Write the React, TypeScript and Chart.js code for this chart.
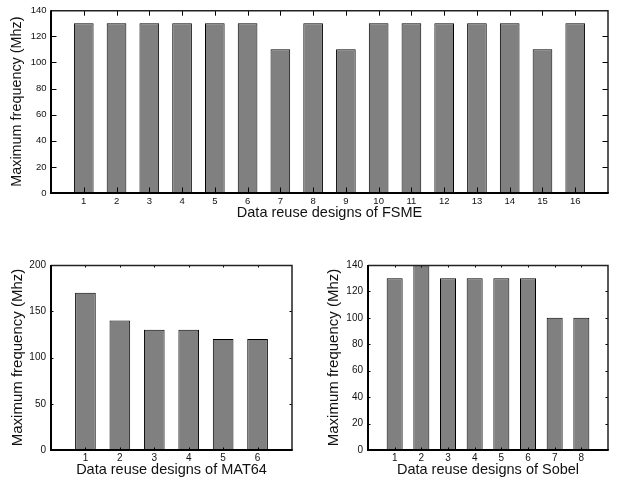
import React, { useEffect, useRef } from 'react';
import { Chart, registerables } from 'chart.js';

Chart.register(...registerables);

// ---- data ----
const fsmeDesigns = [1, 2, 3, 4, 5, 6, 7, 8, 9, 10, 11, 12, 13, 14, 15, 16];
const fsmeFrequency = [130, 130, 130, 130, 130, 130, 110, 130, 110, 130, 130, 130, 130, 130, 110, 130];
const fsmeYTicks = [0, 20, 40, 60, 80, 100, 120, 140];

const mat64Designs = [1, 2, 3, 4, 5, 6];
const mat64Frequency = [170, 140, 130, 130, 120, 120];
const mat64YTicks = [0, 50, 100, 150, 200];

const sobelDesigns = [1, 2, 3, 4, 5, 6, 7, 8];
const sobelFrequency = [130, 140, 130, 130, 130, 130, 100, 100];
const sobelYTicks = [0, 20, 40, 60, 80, 100, 120, 140];

const yAxisTitle = 'Maximum frequency (Mhz)';
const fsmeTitle = 'Data reuse designs of FSME';
const mat64Title = 'Data reuse designs of MAT64';
const sobelTitle = 'Data reuse designs of Sobel';

const FONT = "'Liberation Sans', Arial, Helvetica, sans-serif";
const TEXT = '#111';

const framePlugin = {
  id: 'matlabFrame',
  afterDraw(chart: any, _args: any, opts: any) {
    const { ctx, chartArea } = chart;
    const { left, right, top, bottom } = chartArea;
    const xs = chart.scales.x;
    const ys = chart.scales.y;
    const tl = opts.tickLength || 4;
    ctx.save();
    ctx.strokeStyle = '#000';
    ctx.lineWidth = 1;
    ctx.beginPath();
    (opts.xTicks || []).forEach((v: number) => {
      const px = Math.round(xs.getPixelForValue(v)) + 0.5;
      ctx.moveTo(px, top);
      ctx.lineTo(px, top + tl);
      ctx.moveTo(px, bottom);
      ctx.lineTo(px, bottom - tl);
    });
    (opts.yTicks || []).forEach((v: number, i: number, arr: number[]) => {
      if (i === 0 || i === arr.length - 1) return;
      const py = Math.round(ys.getPixelForValue(v)) + 0.5;
      ctx.moveTo(left, py);
      ctx.lineTo(left + tl, py);
      ctx.moveTo(right, py);
      ctx.lineTo(right - tl, py);
    });
    ctx.stroke();
    // top & right frame
    ctx.lineWidth = 1.5;
    ctx.strokeStyle = '#222';
    ctx.beginPath();
    ctx.moveTo(left, top + 0.5);
    ctx.lineTo(right, top + 0.5);
    ctx.lineTo(right, bottom);
    ctx.stroke();
    // left & bottom axes
    ctx.lineWidth = 2;
    ctx.strokeStyle = '#000';
    ctx.beginPath();
    ctx.moveTo(left, top);
    ctx.lineTo(left, bottom);
    ctx.lineTo(right + 0.75, bottom);
    ctx.stroke();
    ctx.restore();
  },
};

type PanelLayout = {
  left: number;
  top: number;
  width: number;
  height: number;
  padTop: number;
  padRight: number;
  padBottom: number;
  yAxisWidth: number;
  xAxisHeight: number;
  tickFont: number;
  xTickPad: number;
  yTickPad: number;
  xTitleFont: number;
  yTitleFont: number;
  yTitlePad: number;
  tickLength: number;
};

type PanelProps = {
  designs: number[];
  values: number[];
  yTicks: number[];
  xTitle: string;
  layout: PanelLayout;
};

function BarPanel({ designs, values, yTicks, xTitle, layout }: PanelProps) {
  const ref = useRef<HTMLCanvasElement | null>(null);
  useEffect(() => {
    if (!ref.current) return;
    const xMax = designs[designs.length - 1] + 1;
    const chart = new Chart(ref.current, {
      type: 'bar',
      data: {
        datasets: [
          {
            data: designs.map((d, i) => ({ x: d, y: values[i] })),
            backgroundColor: '#808080',
            borderColor: '#000',
            borderWidth: 1,
            barPercentage: 0.6,
            categoryPercentage: 1,
          },
        ],
      },
      options: {
        animation: false,
        responsive: false,
        maintainAspectRatio: false,
        devicePixelRatio: 1,
        layout: {
          padding: {
            top: layout.padTop,
            right: layout.padRight,
            bottom: layout.padBottom,
            left: 0,
          },
        },
        plugins: {
          legend: { display: false },
          tooltip: { enabled: false },
          matlabFrame: { xTicks: designs, yTicks, tickLength: layout.tickLength },
        } as any,
        scales: {
          x: {
            type: 'linear',
            min: 0,
            max: xMax,
            offset: false,
            grid: { display: false, drawTicks: false, offset: false },
            border: { display: false },
            afterBuildTicks: (scale: any) => {
              scale.ticks = designs.map((d) => ({ value: d }));
            },
            afterFit: (scale: any) => {
              scale.height = layout.xAxisHeight;
            },
            ticks: {
              autoSkip: false,
              maxRotation: 0,
              padding: layout.xTickPad,
              color: TEXT,
              font: { family: FONT, size: layout.tickFont },
              callback: (v: any) => String(v),
            },
            title: {
              display: true,
              text: xTitle,
              color: TEXT,
              padding: 0,
              font: { family: FONT, size: layout.xTitleFont },
            },
          },
          y: {
            type: 'linear',
            min: yTicks[0],
            max: yTicks[yTicks.length - 1],
            grid: { display: false, drawTicks: false },
            border: { display: false },
            afterBuildTicks: (scale: any) => {
              scale.ticks = yTicks.map((v) => ({ value: v }));
            },
            afterFit: (scale: any) => {
              scale.width = layout.yAxisWidth;
            },
            ticks: {
              padding: layout.yTickPad,
              color: TEXT,
              font: { family: FONT, size: layout.tickFont },
              callback: (v: any) => String(v),
            },
            title: {
              display: true,
              text: yAxisTitle,
              color: TEXT,
              padding: { top: layout.yTitlePad, bottom: 0 },
              font: { family: FONT, size: layout.yTitleFont },
            },
          },
        } as any,
      },
      plugins: [framePlugin],
    } as any);
    return () => chart.destroy();
  }, [designs, values, yTicks, xTitle, layout]);

  return (
    <canvas
      ref={ref}
      width={layout.width}
      height={layout.height}
      style={{
        position: 'absolute',
        left: layout.left,
        top: layout.top,
        width: layout.width,
        height: layout.height,
      }}
    />
  );
}

const fsmeLayout: PanelLayout = {
  left: 0, top: 0, width: 624, height: 240,
  padTop: 7, padRight: 16, padBottom: 18,
  yAxisWidth: 51, xAxisHeight: 29,
  tickFont: 9.5, xTickPad: 3, yTickPad: 4.5,
  xTitleFont: 14.5, yTitleFont: 14.4, yTitlePad: 8.7,
  tickLength: 5.5,
};

const mat64Layout: PanelLayout = {
  left: 0, top: 240, width: 312, height: 244,
  padTop: 25, padRight: 20, padBottom: 5,
  yAxisWidth: 51, xAxisHeight: 29,
  tickFont: 10, xTickPad: 2.5, yTickPad: 5,
  xTitleFont: 14.5, yTitleFont: 15, yTitlePad: 9.2,
  tickLength: 2.5,
};

const sobelLayout: PanelLayout = {
  left: 312, top: 240, width: 312, height: 244,
  padTop: 25, padRight: 16, padBottom: 5,
  yAxisWidth: 56, xAxisHeight: 29,
  tickFont: 10, xTickPad: 2.5, yTickPad: 5,
  xTitleFont: 14.5, yTitleFont: 15, yTitlePad: 12.8,
  tickLength: 2.5,
};

export default function App() {
  return (
    <div style={{ position: 'absolute', left: 0, top: 0, width: 624, height: 484, background: '#fff' }}>
      <BarPanel designs={fsmeDesigns} values={fsmeFrequency} yTicks={fsmeYTicks} xTitle={fsmeTitle} layout={fsmeLayout} />
      <BarPanel designs={mat64Designs} values={mat64Frequency} yTicks={mat64YTicks} xTitle={mat64Title} layout={mat64Layout} />
      <BarPanel designs={sobelDesigns} values={sobelFrequency} yTicks={sobelYTicks} xTitle={sobelTitle} layout={sobelLayout} />
    </div>
  );
}
